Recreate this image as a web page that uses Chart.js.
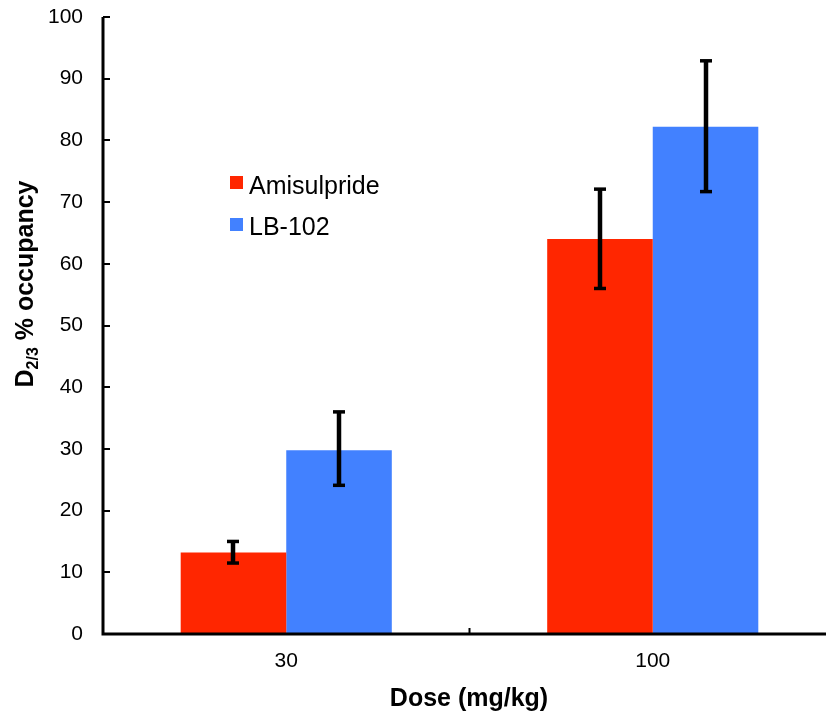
<!DOCTYPE html>
<html>
<head>
<meta charset="utf-8">
<script src="https://cdn.jsdelivr.net/npm/chart.js@4"></script>
<style>
html,body{margin:0;padding:0;background:#fff;overflow:hidden;width:826px;height:711px;}
#wrap{position:relative;width:840px;height:711px;}
</style>
</head>
<body>
<div id="wrap"><canvas id="c" width="840" height="711"></canvas></div>
<script>
const categories = ["30", "100"];
const seriesNames = ["Amisulpride", "LB-102"];
const amisulpride = [13.2, 64.0];
const lb102 = [29.8, 82.2];
const amisulprideErrLow = [11.5, 56.0];
const amisulprideErrHigh = [15.0, 72.1];
const lb102ErrLow = [24.1, 71.7];
const lb102ErrHigh = [36.0, 92.9];
const yTicks = [0, 10, 20, 30, 40, 50, 60, 70, 80, 90, 100];

const colors = ["#FF2600", "#4281FF"];
const FONT = "'Liberation Sans', Arial, sans-serif";

const errs = [
  {low: amisulprideErrLow, high: amisulprideErrHigh},
  {low: lb102ErrLow, high: lb102ErrHigh}
];

const overlay = {
  id: 'overlay',
  afterDatasetsDraw(chart) {
    const ctx = chart.ctx;
    const y = chart.scales.y, x = chart.scales.x;
    const area = chart.chartArea;
    ctx.save();
    // error bars
    ctx.strokeStyle = '#000';
    errs.forEach((e, di) => {
      const meta = chart.getDatasetMeta(di);
      meta.data.forEach((bar, j) => {
        const cx = Math.round(bar.x);
        const yl = y.getPixelForValue(e.low[j]);
        const yh = y.getPixelForValue(e.high[j]);
        ctx.lineWidth = 4.5;
        ctx.beginPath(); ctx.moveTo(cx, yl); ctx.lineTo(cx, yh); ctx.stroke();
        ctx.lineWidth = 3.5;
        ctx.beginPath(); ctx.moveTo(cx - 6, yl); ctx.lineTo(cx + 6, yl); ctx.stroke();
        ctx.beginPath(); ctx.moveTo(cx - 6, yh); ctx.lineTo(cx + 6, yh); ctx.stroke();
      });
    });
    // axes
    ctx.strokeStyle = '#000';
    ctx.lineWidth = 3;
    ctx.beginPath();
    ctx.moveTo(area.left, area.top);
    ctx.lineTo(area.left, area.bottom);
    ctx.lineTo(area.right, area.bottom);
    ctx.stroke();
    ctx.lineWidth = 2;
    yTicks.forEach(v => {
      const py = Math.round(y.getPixelForValue(v));
      ctx.beginPath(); ctx.moveTo(area.left, py); ctx.lineTo(area.left + 7, py); ctx.stroke();
    });
    // x category boundary tick
    const mid = (x.getPixelForValue(0) + x.getPixelForValue(1)) / 2;
    ctx.beginPath(); ctx.moveTo(mid, area.bottom); ctx.lineTo(mid, area.bottom - 6); ctx.stroke();
    // legend
    ctx.textBaseline = 'alphabetic';
    ctx.textAlign = 'left';
    ctx.font = '25px ' + FONT;
    const ly = [194, 235];
    const sy = [176, 218];
    chart.data.datasets.forEach((ds, i) => {
      ctx.fillStyle = ds.backgroundColor;
      ctx.fillRect(230, sy[i], 13, 13);
      ctx.fillStyle = '#000';
      ctx.fillText(ds.label, 249, ly[i]);
    });
    // y title with subscript
    ctx.save();
    ctx.translate(33, 284);
    ctx.rotate(-Math.PI / 2);
    ctx.fillStyle = '#000';
    ctx.textBaseline = 'alphabetic';
    const big = 'bold 25px ' + FONT, small = 'bold 16px ' + FONT;
    ctx.font = big; const wD = ctx.measureText('D').width;
    ctx.font = small; const wS = ctx.measureText('2/3').width;
    ctx.font = big; const wR = ctx.measureText(' % occupancy').width;
    let sx = -(wD + wS + wR) / 2;
    ctx.font = big; ctx.fillText('D', sx, 0); sx += wD;
    ctx.font = small; ctx.fillText('2/3', sx, 5); sx += wS;
    ctx.font = big; ctx.fillText(' % occupancy', sx, 0);
    ctx.restore();
    // x title
    ctx.font = 'bold 25px ' + FONT;
    ctx.fillStyle = '#000';
    ctx.textAlign = 'center';
    ctx.fillText('Dose (mg/kg)', 469, 706);
    ctx.restore();
  }
};

new Chart(document.getElementById('c'), {
  type: 'bar',
  data: {
    labels: categories,
    datasets: [
      {label: seriesNames[0], data: amisulpride, backgroundColor: colors[0]},
      {label: seriesNames[1], data: lb102, backgroundColor: colors[1]}
    ]
  },
  options: {
    responsive: false,
    animation: false,
    devicePixelRatio: 1,
    layout: {padding: {top: 17, right: 4, left: 0, bottom: 0}},
    datasets: {bar: {categoryPercentage: 0.576, barPercentage: 1.0}},
    plugins: {legend: {display: false}, tooltip: {enabled: false}},
    scales: {
      x: {
        grid: {display: false, drawTicks: false},
        border: {display: false},
        ticks: {color: '#000', font: {family: FONT, size: 21}, padding: 15},
        afterFit(s) { s.height = 77; s.paddingLeft = 0; s.paddingRight = 0; }
      },
      y: {
        min: 0, max: 100,
        afterBuildTicks(s) { s.ticks = yTicks.map(v => ({value: v})); },
        grid: {display: false, drawTicks: false},
        border: {display: false},
        ticks: {color: '#000', font: {family: FONT, size: 21}, padding: 20},
        afterFit(s) { s.width = 103; s.paddingTop = 0; s.paddingBottom = 0; }
      }
    }
  },
  plugins: [overlay]
});
</script>
</body>
</html>
